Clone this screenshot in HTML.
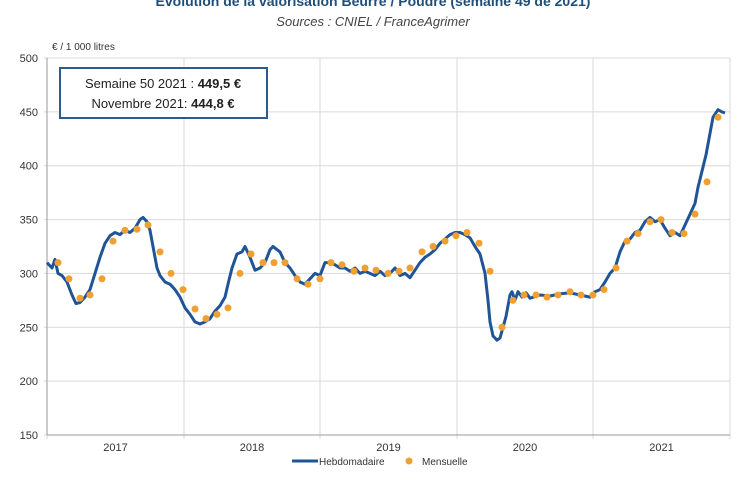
<!DOCTYPE html>
<html><head><meta charset="utf-8"><style>
body{margin:0;background:#fff;width:747px;height:475px;overflow:hidden;font-family:"Liberation Sans",sans-serif}
</style></head><body>
<svg id="s" width="747" height="475" xmlns="http://www.w3.org/2000/svg" font-family="Liberation Sans, sans-serif">
<text x="373" y="6" text-anchor="middle" font-size="14" font-weight="bold" fill="#1f4e79">Évolution de la valorisation Beurre / Poudre (semaine 49 de 2021)</text>
<text x="373" y="26" text-anchor="middle" font-size="13" font-style="italic" fill="#444">Sources : CNIEL / FranceAgrimer</text>
<text x="52" y="50" font-size="10" fill="#333">€ / 1 000 litres</text>
<g id="grid" stroke="#d9d9d9" stroke-width="1"></g>
<g id="lab" font-size="11" fill="#333"></g>
<rect x="60" y="68" width="207" height="50" fill="#fff" stroke="#2e5b8c" stroke-width="2"/>
<text x="163" y="88" text-anchor="middle" font-size="13" fill="#222">Semaine 50 2021 : <tspan font-weight="bold">449,5 €</tspan></text>
<text x="163" y="108" text-anchor="middle" font-size="13" fill="#222">Novembre 2021: <tspan font-weight="bold">444,8 €</tspan></text>
<polyline id="ln" fill="none" stroke="#1f5596" stroke-width="3" stroke-linejoin="round"/>
<g id="dots" fill="#f0a030"></g>
<line x1="292" y1="461" x2="318" y2="461" stroke="#1f5596" stroke-width="3"/>
<text x="319" y="465" font-size="10" fill="#333">Hebdomadaire</text>
<circle cx="409" cy="461" r="3.5" fill="#f0a030"/>
<text x="422" y="465" font-size="10" fill="#333">Mensuelle</text>
</svg>
<script>
var Y=v=>58+(500-v)*1.0771,ns="http://www.w3.org/2000/svg";
function el(t,a,p){var e=document.createElementNS(ns,t);for(var k in a)e.setAttribute(k,a[k]);if(p)p.appendChild(e);return e;}
var g=document.getElementById('grid'),lab=document.getElementById('lab');
for(var v=150;v<=500;v+=50){el('line',{x1:44,x2:730,y1:Y(v),y2:Y(v)},g);var t=el('text',{x:38,y:Y(v)+4,'text-anchor':'end'},lab);t.textContent=v;}
var xs=[47,184,320,457,593,730];
xs.forEach(x=>el('line',{x1:x,x2:x,y1:58,y2:439},g));
el('line',{x1:47,x2:47,y1:58,y2:435,stroke:'#999'},g);el('line',{x1:47,x2:730,y1:435,y2:435,stroke:'#999'},g);
['2017','2018','2019','2020','2021'].forEach((s,i)=>{var t=el('text',{x:(xs[i]+xs[i+1])/2,y:451,'text-anchor':'middle','font-size':'11'},lab);t.textContent=s;});
var d=[47,310,52,305,55,313,58,300,62,298,67,292,72,280,76,272,80,273,85,278,90,285,95,300,100,315,105,328,110,335,115,338,120,336,125,340,130,338,135,342,140,350,143,352,147,348,150,340,153,325,157,305,160,298,165,292,170,290,175,285,180,278,185,268,190,262,195,255,200,253,205,255,210,258,215,265,220,270,225,278,228,290,232,305,237,318,242,320,245,325,250,315,255,303,260,305,265,310,270,322,273,325,280,320,285,310,290,305,295,298,300,292,305,290,310,295,315,300,320,298,325,310,330,310,335,308,340,305,345,305,350,302,355,305,360,300,365,302,370,300,375,298,380,302,385,298,390,300,395,305,400,298,405,300,410,296,415,303,420,310,425,315,430,318,435,322,440,328,445,332,450,336,455,338,460,338,465,336,470,333,475,325,480,318,485,300,488,275,490,255,493,242,497,238,500,240,503,250,506,260,510,280,512,283,515,275,518,283,522,278,526,282,530,277,540,280,550,279,560,281,570,282,580,280,590,278,595,283,600,285,605,292,610,300,615,305,620,320,625,330,630,332,635,338,640,340,645,348,650,352,655,348,660,350,665,342,670,335,675,338,680,335,685,345,690,355,695,365,698,380,702,395,706,410,710,430,713,445,718,452,722,450,725,449];
var p=[];for(var i=0;i<d.length;i+=2)p.push(d[i]+','+Y(d[i+1]).toFixed(1));
document.getElementById('ln').setAttribute('points',p.join(' '));
var m=[58,310,69,295,80,277,90,280,102,295,113,330,125,340,137,341,148,345,160,320,171,300,183,285,195,267,206,258,217,262,228,268,240,300,251,318,263,310,274,310,285,310,297,295,308,290,320,295,331,310,342,308,354,302,365,305,376,303,388,300,399,302,410,305,422,320,433,325,445,330,456,335,467,338,479,328,490,302,502,250,513,275,524,280,536,280,547,278,558,280,570,283,581,280,593,280,604,285,616,305,627,330,638,337,650,348,661,350,672,338,684,337,695,355,707,385,718,445];
var dg=document.getElementById('dots');
for(var i=0;i<m.length;i+=2)el('circle',{cx:m[i],cy:Y(m[i+1]),r:3.5},dg);
</script>
</body></html>
